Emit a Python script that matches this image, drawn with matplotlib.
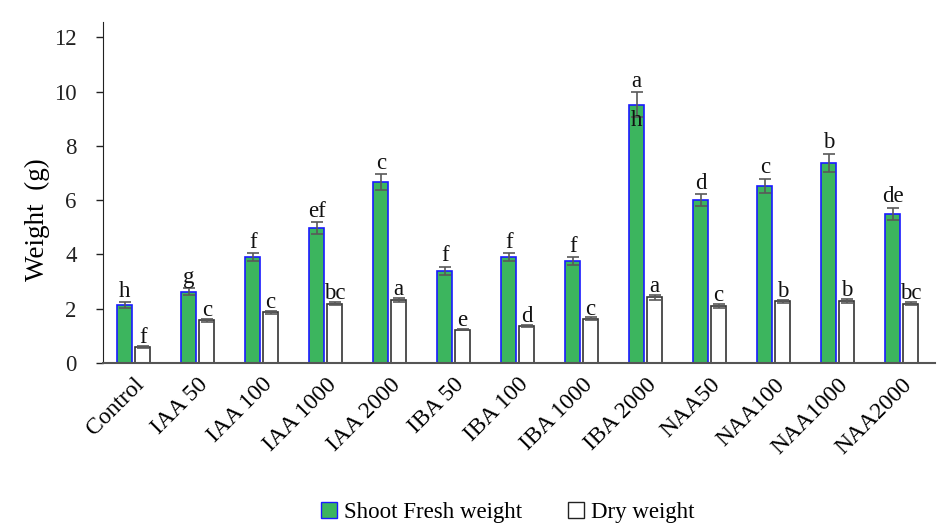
import numpy as np
import matplotlib
matplotlib.use("Agg")
import matplotlib.pyplot as plt
from matplotlib.patches import Patch

plt.rcParams['font.family'] = ['Liberation Serif', 'DejaVu Serif']

treatments = ['Control', 'IAA 50', 'IAA 100', 'IAA 1000', 'IAA 2000',
              'IBA 50', 'IBA 100', 'IBA 1000', 'IBA 2000',
              'NAA50', 'NAA100', 'NAA1000', 'NAA2000']
fresh = [2.14, 2.63, 3.9, 4.97, 6.66, 3.4, 3.9, 3.75, 9.52, 6.0, 6.52, 7.38, 5.5]
fresh_err = [0.1, 0.12, 0.15, 0.22, 0.29, 0.15, 0.15, 0.15, 0.45, 0.22, 0.26, 0.33, 0.22]
dry = [0.6, 1.57, 1.87, 2.19, 2.33, 1.23, 1.36, 1.63, 2.42, 2.1, 2.28, 2.28, 2.19]
dry_err = [0.03, 0.05, 0.06, 0.07, 0.07, 0.03, 0.04, 0.05, 0.08, 0.07, 0.06, 0.07, 0.07]
fresh_letters = ['h', 'g', 'f', 'ef', 'c', 'f', 'f', 'f', 'a', 'd', 'c', 'b', 'de']
dry_letters = ['f', 'c', 'c', 'bc', 'a', 'e', 'd', 'c', 'a', 'c', 'b', 'b', 'bc']

green = '#3cb55e'
x = np.arange(len(treatments))
w = 0.23
off = 0.14

fig = plt.figure(figsize=(9.4, 5.28), dpi=100)
ax = fig.add_axes([0.1096, 0.3125, 0.885, 0.645])

err_kw = dict(ecolor='#595959', elinewidth=1.2, capsize=4, capthick=1.2)
ax.bar(x - off, fresh, w, color=green, edgecolor='#1a1aff', linewidth=1.2,
       yerr=fresh_err, error_kw=err_kw, zorder=2)
ax.bar(x + off, dry, w, color='white', edgecolor='#333333', linewidth=1.2,
       yerr=dry_err, error_kw=err_kw, zorder=2)

for i in range(len(x)):
    ax.text(x[i] - off, fresh[i] + fresh_err[i] + 0.02, fresh_letters[i],
            ha='center', va='bottom', fontsize=16.5, color='#111111')
    ax.text(x[i] + off, dry[i] + dry_err[i] - 0.08, dry_letters[i],
            ha='center', va='bottom', fontsize=16.5, color='#111111')
# stray letter sitting at the top of the IBA 2000 bar
ax.text(x[8] - off, fresh[8] - 0.2, 'h', ha='center', va='top',
        fontsize=16.5, color='#111111')

ax.set_xlim(-0.48, 12.52)
ax.set_ylim(0, 12.55)
ax.set_yticks(range(0, 13, 2))
ax.set_xticks(x)
ax.set_xticklabels(treatments, rotation=45, ha='right', rotation_mode='anchor',
                   fontsize=17)
ax.tick_params(axis='x', length=0, pad=8)
ax.tick_params(axis='y', direction='out', length=5, width=1, labelsize=16.5,
               pad=14, colors='#222222')
ax.set_ylabel('Weight  (g)', fontsize=19.5)
ax.yaxis.set_label_coords(-0.064, 0.42)

for s in ['top', 'right']:
    ax.spines[s].set_visible(False)
ax.spines['left'].set_color('#222222')
ax.spines['bottom'].set_color('#555555')
ax.spines['bottom'].set_linewidth(1.5)

handles = [Patch(facecolor=green, edgecolor='#1a1aff', label='Shoot Fresh weight'),
           Patch(facecolor='white', edgecolor='#222222', label='Dry weight')]
fig.legend(handles=handles, loc='center', bbox_to_anchor=(0.54, 0.03), ncol=2,
           frameon=False, fontsize=16.5, handlelength=0.7, handleheight=0.7,
           handletextpad=0.3, columnspacing=2.0)

fig.savefig('out.png', dpi=100)
